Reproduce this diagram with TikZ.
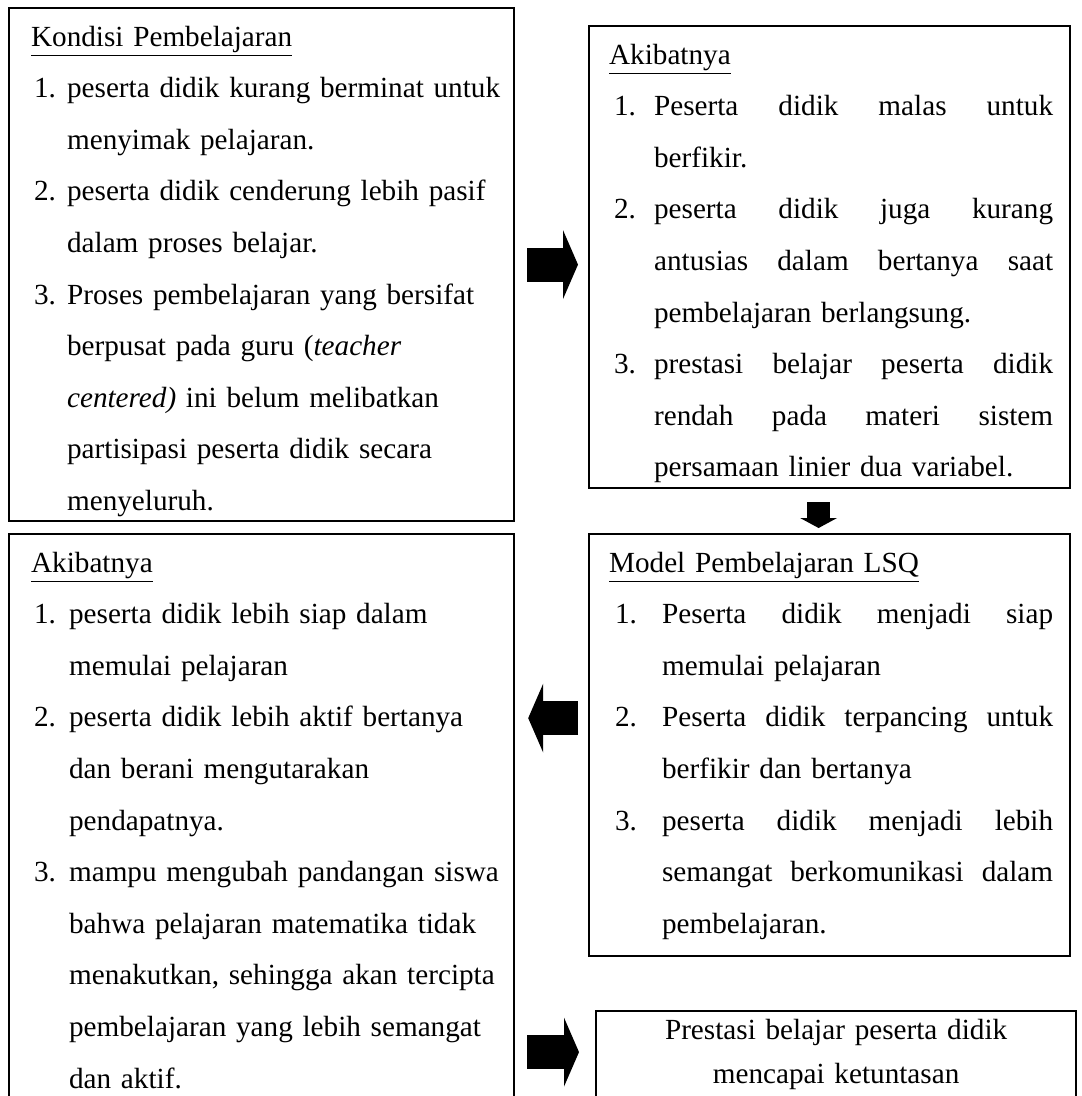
\documentclass[tikz,border=0pt]{standalone}
\usepackage{fontspec}
\setmainfont{Liberation Serif}
\usetikzlibrary{positioning,calc,arrows.meta}

\newlength{\geserno}
\newlength{\geserisi}
\newlength{\lebarrata}
\newcommand{\butir}[2]{\mbox{\hspace*{\geserno}\makebox[\dimexpr\geserisi-\geserno\relax][l]{#1}#2}}
\newcommand{\lanjut}[1]{\mbox{\hspace*{\geserisi}#1}}
\newcommand{\rata}[1]{\makebox[\lebarrata][s]{\spaceskip=0pt\relax\xspaceskip=0pt\relax #1}}

\tikzset{
  kotak/.style={draw, line width=1.1pt, anchor=north west, inner ysep=0pt, text height=19pt,
    align=left, font=\fontsize{14.6pt}{25.8pt}\selectfont},
  lebar/.style={inner xsep=11pt, text width=230.5pt},
  sempit/.style={inner xsep=10pt, text width=220.5pt},
  indenA/.style={execute at begin node={\setlength{\geserno}{1.5pt}\setlength{\geserisi}{18pt}}},
  indenB/.style={execute at begin node={\setlength{\geserno}{2.5pt}\setlength{\geserisi}{22.5pt}\setlength{\lebarrata}{199.5pt}}},
  indenC/.style={execute at begin node={\setlength{\geserno}{1.5pt}\setlength{\geserisi}{19pt}}},
  indenD/.style={execute at begin node={\setlength{\geserno}{3pt}\setlength{\geserisi}{26.5pt}\setlength{\lebarrata}{195.5pt}}},
  panah/.style={line width=17pt, -{Triangle[length=7.5pt,width=34.5pt,line width=0pt]}},
  panahbawah/.style={line width=11.75pt, -{Triangle[length=5pt,width=18.5pt,line width=0pt]}},
}

\begin{document}
\begin{tikzpicture}[x=0.5pt, y=-0.5pt]
  \useasboundingbox (0,0) rectangle (1081,1096);
  \clip (0,0) rectangle (1081,1096);

  \node[kotak, lebar, indenA, text depth=237.5pt] (kondisi) at (8,7) {%
    \underline{Kondisi Pembelajaran}\\
    \butir{1.}{peserta didik kurang berminat untuk}\\
    \lanjut{menyimak pelajaran.}\\
    \butir{2.}{peserta didik cenderung lebih pasif}\\
    \lanjut{dalam proses belajar.}\\
    \butir{3.}{Proses pembelajaran yang bersifat}\\
    \lanjut{berpusat pada guru (\textit{teacher}}\\
    \lanjut{\textit{centered)} ini belum melibatkan}\\
    \lanjut{partisipasi peserta didik secara}\\
    \lanjut{menyeluruh.}};

  \node[kotak, sempit, indenB, text depth=212pt] (akibat) at (588,25) {%
    \underline{Akibatnya}\\
    \butir{1.}{\rata{Peserta didik malas untuk}}\\
    \lanjut{berfikir.}\\
    \butir{2.}{\rata{peserta didik juga kurang}}\\
    \lanjut{\rata{antusias dalam bertanya saat}}\\
    \lanjut{pembelajaran berlangsung.}\\
    \butir{3.}{\rata{prestasi belajar peserta didik}}\\
    \lanjut{\rata{rendah pada materi sistem}}\\
    \lanjut{persamaan linier dua variabel.}};

  \node[kotak, sempit, indenD, text depth=192pt] (model) at (588,533) {%
    \underline{Model Pembelajaran LSQ}\\
    \butir{1.}{\rata{Peserta didik menjadi siap}}\\
    \lanjut{memulai pelajaran}\\
    \butir{2.}{\rata{Peserta didik terpancing untuk}}\\
    \lanjut{berfikir dan bertanya}\\
    \butir{3.}{\rata{peserta didik menjadi lebih}}\\
    \lanjut{\rata{semangat berkomunikasi dalam}}\\
    \lanjut{pembelajaran.}};

  \node[kotak, lebar, indenC, text depth=274.5pt] (hasil) at (8,533) {%
    \underline{Akibatnya}\\
    \butir{1.}{peserta didik lebih siap dalam}\\
    \lanjut{memulai pelajaran}\\
    \butir{2.}{peserta didik lebih aktif bertanya}\\
    \lanjut{dan berani mengutarakan}\\
    \lanjut{pendapatnya.}\\
    \butir{3.}{mampu mengubah pandangan siswa}\\
    \lanjut{bahwa pelajaran matematika tidak}\\
    \lanjut{menakutkan, sehingga akan tercipta}\\
    \lanjut{pembelajaran yang lebih semangat}\\
    \lanjut{dan aktif.}};

  \node[kotak, inner xsep=10pt, text width=220pt, align=center, text height=14pt, text depth=31pt,
    font=\fontsize{14.6pt}{22pt}\selectfont] (prestasi) at (595,1010) {%
    Prestasi belajar peserta didik\\
    mencapai ketuntasan};

  \coordinate (kiri) at ([yshift=13.5pt]model.west);
  \coordinate (kanan) at ([yshift=2pt]prestasi.west);
  \coordinate (bawah) at ([xshift=-5.5pt]akibat.south);

  \draw[panah, shorten <=6pt, shorten >=5pt] (kondisi.east) -- (kondisi.east -| akibat.west);
  \draw[panahbawah, shorten <=6.5pt, shorten >=2.5pt] (bawah) -- (bawah |- model.north);
  \draw[panah, shorten <=5pt, shorten >=6.5pt] (kiri) -- (kiri -| hasil.east);
  \draw[panah, shorten <=6pt, shorten >=8pt] (kanan -| hasil.east) -- (kanan);
\end{tikzpicture}
\end{document}
